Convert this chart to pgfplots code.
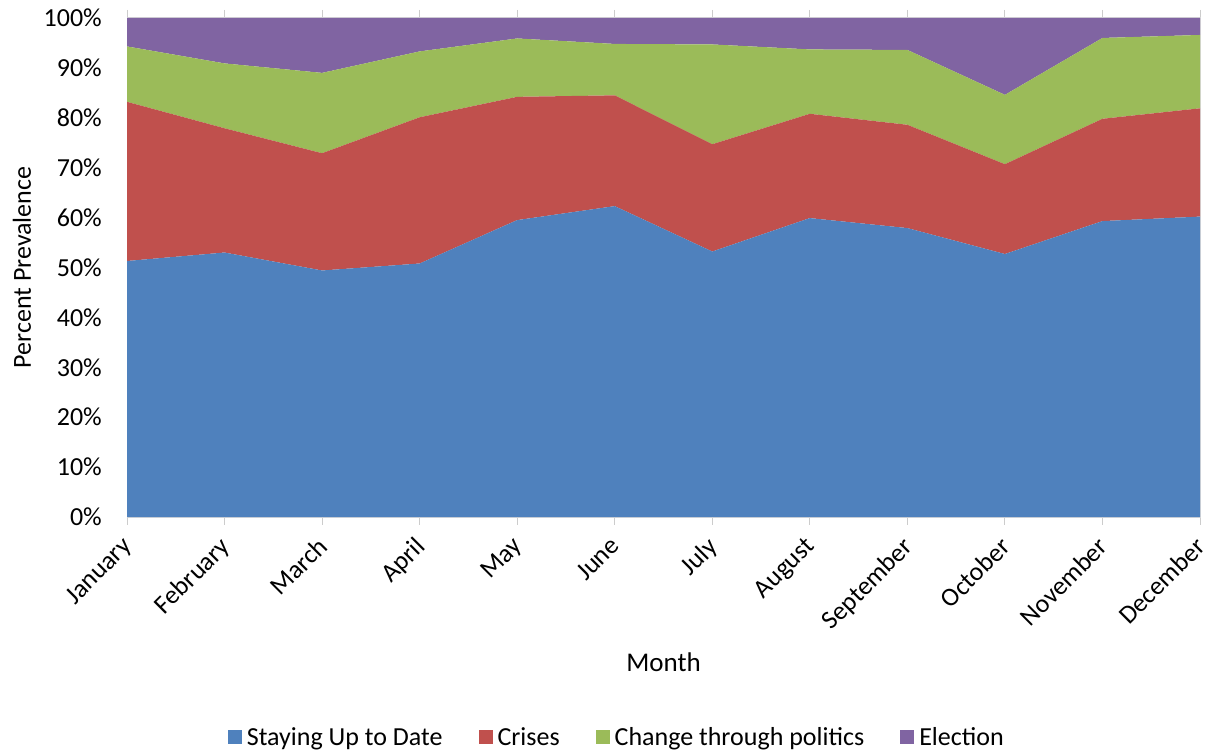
\documentclass[border=0pt]{standalone}
\usepackage{pgfplots}
\pgfplotsset{compat=1.18}
\usepackage{fontspec}
\setmainfont{Carlito}
\definecolor{cBlue}{HTML}{4F81BD}
\definecolor{cRed}{HTML}{C0504D}
\definecolor{cGreen}{HTML}{9BBB59}
\definecolor{cPurple}{HTML}{8064A2}
\begin{document}
\begin{tikzpicture}[font=\fontsize{26bp}{31bp}\selectfont]
\path[use as bounding box] (0,0) rectangle (1209bp,753bp);
\begin{axis}[
  at={(127bp,236bp)}, anchor=south west,
  scale only axis, width=1073bp, height=499bp,
  xmin=0, xmax=11, ymin=0, ymax=100,
  stack plots=y,
  xtick={0,...,11},
  xticklabels={January,February,March,April,May,June,July,August,September,October,November,December},
  ytick={0,10,...,100},
  yticklabel={\pgfmathparse{int(\tick)}\pgfmathresult\%},
  xticklabel style={xshift=-6bp, yshift=-9bp, rotate=45, anchor=north east, inner sep=1bp},
  yticklabel style={anchor=east, inner sep=0bp},
  yticklabel shift=17bp,
  tick align=outside,
  major tick length=8bp,
  xtick style={draw=gray!40, line width=1bp},
  ytick style={draw=none},
  axis line style={draw=gray!30, line width=1bp},
  xlabel={Month},
  ylabel={Percent Prevalence},
  every axis x label/.style={at={(axis description cs:0.5,-0.2906)}, anchor=center, font=\fontsize{27bp}{32bp}\selectfont},
  every axis y label/.style={at={(axis description cs:-0.0979,0.5)}, rotate=90, anchor=center, font=\fontsize{26bp}{31bp}\selectfont},
  legend columns=-1,
  legend style={at={(axis description cs:0.456,-0.441)}, anchor=center, draw=none, fill=none,
    inner sep=0bp,
    /tikz/every odd column/.append style={column sep=4bp},
    /tikz/every even column/.append style={column sep=35bp},
    nodes={inner sep=1bp, anchor=west}},
  legend image code/.code={\fill[#1] (0bp,-7bp) rectangle (14bp,7bp);},
  clip=false,
]
\addplot[draw=none, fill=cBlue] coordinates {(0,51.3) (1,53.0) (2,49.4) (3,50.8) (4,59.5) (5,62.3) (6,53.2) (7,59.9) (8,57.9) (9,52.7) (10,59.3) (11,60.2)} \closedcycle;
\addlegendentry{Staying Up to Date}
\addplot[draw=none, fill=cRed] coordinates {(0,31.9) (1,24.9) (2,23.5) (3,29.3) (4,24.7) (5,22.2) (6,21.5) (7,20.9) (8,20.7) (9,18.0) (10,20.5) (11,21.7)} \closedcycle;
\addlegendentry{Crises}
\addplot[draw=none, fill=cGreen] coordinates {(0,11.1) (1,13.0) (2,16.1) (3,13.2) (4,11.7) (5,10.3) (6,20.0) (7,12.9) (8,15.0) (9,13.9) (10,16.2) (11,14.7)} \closedcycle;
\addlegendentry{Change through politics}
\addplot[draw=none, fill=cPurple] coordinates {(0,5.7) (1,9.1) (2,11.0) (3,6.7) (4,4.1) (5,5.2) (6,5.3) (7,6.3) (8,6.4) (9,15.4) (10,4.0) (11,3.4)} \closedcycle;
\addlegendentry{Election}
\end{axis}
\end{tikzpicture}
\end{document}
